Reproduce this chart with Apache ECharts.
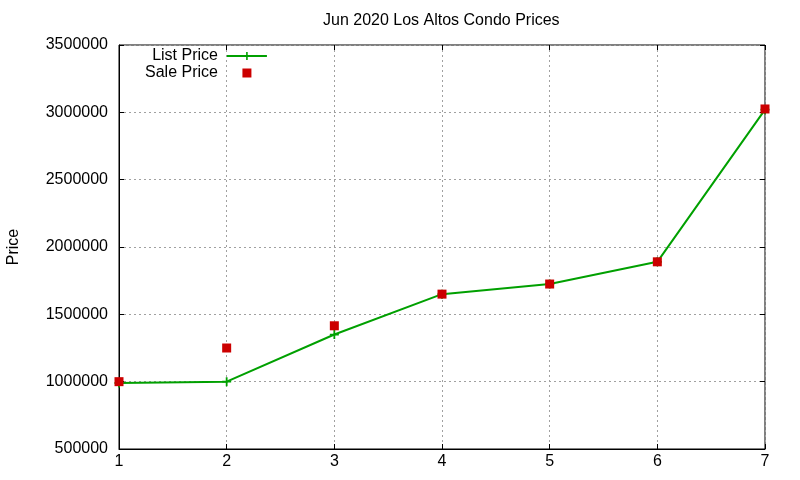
<!DOCTYPE html>
<html>
<head>
<meta charset="UTF-8">
<script src="https://cdn.jsdelivr.net/npm/echarts@6/dist/echarts.min.js"></script>
<style>
  html, body { margin: 0; padding: 0; background: #fff; }
  #chart { width: 800px; height: 480px; }
</style>
</head>
<body>
<div id="chart"></div>
<script type="text/javascript">
// Data.
const months = [1, 2, 3, 4, 5, 6, 7];
const listPrice = [990000, 1000000, 1350000, 1650000, 1725000, 1890000, 3020000];
const salePrice = [1000000, 1250000, 1415000, 1650000, 1725000, 1890000, 3025000];
const titleText = 'Jun 2020 Los Altos Condo Prices';

const font = "'Liberation Sans', Arial, sans-serif";
const plus = 'path://M4,0H6V4H10V6H6V10H4V6H0V4H4Z';
// square centred in a 40x10 box so the legend does not stretch it
const legendSquare = 'path://M0,0M40,10M15.5,0.5H24.5V9.5H15.5Z';

const chart = echarts.init(document.getElementById('chart'));

const gridLine = { show: true, lineStyle: { color: '#a0a0a0', width: 1, type: [2, 3] } };
const tick = { show: true, inside: true, length: 5, lineStyle: { color: '#000' } };

const option = {
    backgroundColor: '#ffffff',
    animation: false,
    textStyle: { fontFamily: font },
    title: {
        text: titleText,
        left: 323,
        top: 13,
        padding: 0,
        textStyle: { fontFamily: font, fontSize: 16, fontWeight: 'normal', color: '#000' }
    },
    grid: {
        left: 119, right: 35, top: 45, bottom: 31,
        outerBoundsMode: 'none',
        containLabel: false,
        show: true, borderColor: '#000', borderWidth: 1
    },
    legend: {
        orient: 'vertical',
        left: 145,
        top: 48,
        align: 'right',
        itemWidth: 40,
        itemHeight: 10,
        itemGap: 1,
        padding: 0,
        textStyle: {
            fontFamily: font, fontSize: 16, color: '#000',
            width: 73, align: 'right', padding: [0, 4, 0, 0]
        },
        data: ['List Price', { name: 'Sale Price', icon: legendSquare }]
    },
    xAxis: [
        {
            type: 'value',
            min: 1, max: 7, interval: 1,
            axisLine: { show: true, onZero: false, lineStyle: { color: '#000', width: 1 } },
            axisTick: tick,
            axisLabel: { color: '#000', fontSize: 16, fontFamily: font, margin: 5 },
            splitLine: gridLine
        },
        {
            type: 'value', position: 'top',
            min: 1, max: 7, interval: 1,
            axisLine: { show: false },
            axisTick: tick,
            axisLabel: { show: false },
            splitLine: { show: false }
        }
    ],
    yAxis: [
        {
            type: 'value',
            min: 500000, max: 3500000, interval: 500000,
            name: 'Price',
            nameLocation: 'middle',
            nameRotate: 90,
            nameGap: 97,
            nameTextStyle: { color: '#000', fontSize: 16, fontFamily: font },
            axisLine: { show: true, onZero: false, lineStyle: { color: '#000', width: 1 } },
            axisTick: tick,
            axisLabel: { color: '#000', fontSize: 16, fontFamily: font, margin: 11, formatter: v => String(v) },
            splitLine: gridLine
        },
        {
            type: 'value', position: 'right',
            min: 500000, max: 3500000, interval: 500000,
            axisLine: { show: false },
            axisTick: tick,
            axisLabel: { show: false },
            splitLine: { show: false }
        }
    ],
    series: [
        {
            name: 'List Price',
            type: 'line',
            data: months.map((m, i) => [m, listPrice[i]]),
            symbol: plus,
            symbolSize: 9,
            showAllSymbol: true,
            clip: false,
            lineStyle: { color: '#00a000', width: 2 },
            itemStyle: { color: '#00a000' },
            z: 3
        },
        {
            name: 'Sale Price',
            type: 'scatter',
            data: months.map((m, i) => [m, salePrice[i]]),
            symbol: 'rect',
            symbolSize: 9,
            clip: false,
            itemStyle: { color: '#cc0000', opacity: 1 },
            z: 4
        }
    ]
};

chart.setOption(option);
</script>
</body>
</html>
